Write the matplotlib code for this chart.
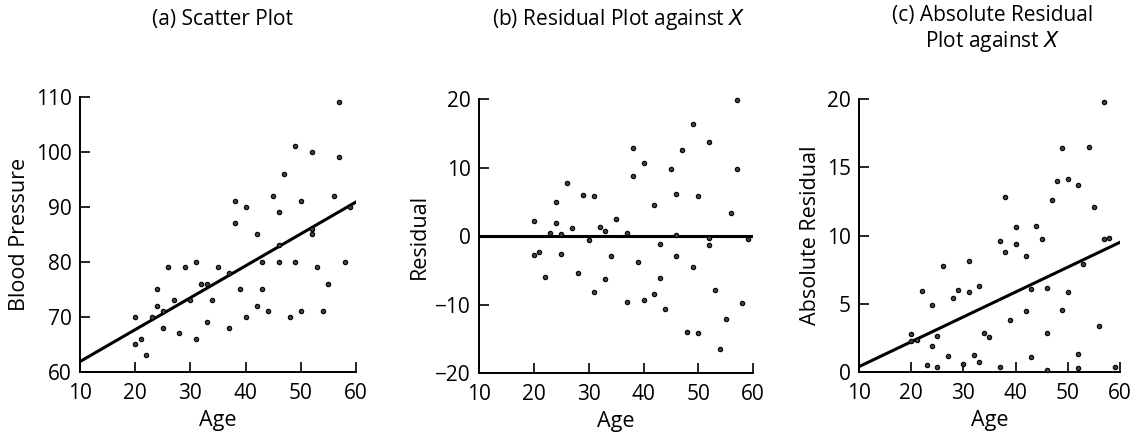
import numpy as np
import matplotlib.pyplot as plt

# Age and blood pressure
age = [20, 20, 21, 22, 23, 24, 24, 25, 25, 26, 27, 28, 29, 30, 31, 31, 32, 33,
       33, 34, 35, 37, 37, 38, 38, 39, 40, 40, 42, 42, 43, 43, 44, 45, 46, 46,
       46, 47, 48, 49, 49, 50, 50, 52, 52, 52, 53, 54, 55, 56, 57, 57, 58, 59]
bp = [70, 65, 66, 63, 70, 75, 72, 71, 68, 79, 73, 67, 79, 73, 80, 66, 76, 76,
      69, 73, 79, 78, 68, 91, 87, 75, 90, 70, 85, 72, 80, 75, 71, 92, 89, 80,
      83, 96, 70, 101, 80, 91, 71, 100, 86, 85, 79, 71, 76, 92, 109, 99, 80, 90]

# fitted lines as drawn in the picture
line_x = [10, 60]
line_a = [61.9, 90.9]
line_c = [0.4, 9.5]

age = np.array(age)
bp = np.array(bp)
b1, b0 = 0.58003, 56.157
resid = bp - (b0 + b1 * age)
abs_resid = np.abs(resid)

plt.rcParams['font.family'] = ['Open Sans', 'DejaVu Sans']

fig = plt.figure(figsize=(11.38, 4.38), dpi=100)
ax1 = fig.add_axes([0.0703, 0.1507, 0.2425, 0.628])
ax2 = fig.add_axes([0.421, 0.148, 0.2408, 0.626])
ax3 = fig.add_axes([0.755, 0.1507, 0.229, 0.623])

dot = dict(marker='o', s=10, facecolor='0.25', edgecolor='black',
           linewidth=0.8, clip_on=False, zorder=3)

for ax in (ax1, ax2, ax3):
    for s in ('top', 'right'):
        ax.spines[s].set_visible(False)
    for s in ('left', 'bottom'):
        ax.spines[s].set_linewidth(1.4)
    ax.tick_params(direction='in', length=7, width=1.2, labelsize=15)
    ax.tick_params(axis='x', pad=8)
    ax.tick_params(axis='y', pad=6)
    ax.set_xlim(10, 60)
    ax.set_xticks([10, 20, 30, 40, 50, 60])
    ax.set_xlabel("Age", fontsize=15.5, labelpad=4)

# (a)
ax1.scatter(age, bp, **dot)
ax1.plot(line_x, line_a, color='black', lw=2.2)
ax1.set_ylim(60, 110)
ax1.set_yticks([60, 70, 80, 90, 100, 110])
ax1.set_ylabel("Blood Pressure", fontsize=15.5, labelpad=4)

# (b)
ax2.scatter(age, resid, **dot)
ax2.plot(line_x, [0, 0], color='black', lw=2.2)
ax2.set_ylim(-20, 20)
ax2.set_yticks([-20, -10, 0, 10, 20])
ax2.set_ylabel("Residual", fontsize=15.5, labelpad=4)

# (c)
ax3.scatter(age, abs_resid, **dot)
ax3.plot(line_x, line_c, color='black', lw=2.2)
ax3.set_ylim(0, 20)
ax3.set_yticks([0, 5, 10, 15, 20])
ax3.set_ylabel("Absolute Residual", fontsize=15.5, labelpad=4)

tfont = dict(fontsize=15, ha='center', va='center')
fig.text(223 / 1138, 1 - 19 / 438, "(a) Scatter Plot", **tfont)
fig.text(619 / 1138, 1 - 19 / 438, "(b) Residual Plot against $\\it{X}$", **tfont)
fig.text(993 / 1138, 1 - 16 / 438, "(c) Absolute Residual", **tfont)
fig.text(993 / 1138, 1 - 41 / 438, "Plot against $\\it{X}$", **tfont)

fig.savefig("out.png", dpi=100)
